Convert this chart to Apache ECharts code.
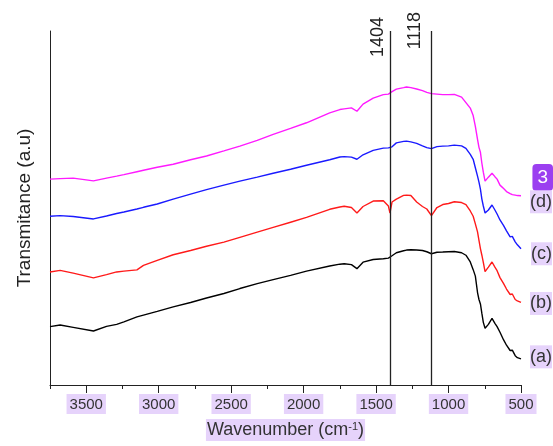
<!DOCTYPE html>
<html>
<head>
<meta charset="utf-8">
<script src="https://cdn.jsdelivr.net/npm/echarts@6/dist/echarts.min.js"></script>
<style>
  html, body { margin: 0; padding: 0; background: #fff; }
  #main { width: 553px; height: 446px; }
</style>
</head>
<body>
<div id="main"></div>
<script>
// wavenumber grid (cm-1), shared by the four spectra
var wavenumber = [3750, 3680, 3590, 3450, 3360, 3290, 3240, 3150, 3105, 3010, 2900, 2780, 2670, 2550, 2440, 2320, 2210, 2090, 1980, 1820, 1750, 1720, 1670, 1632, 1590, 1520, 1450, 1415, 1404, 1390, 1360, 1310, 1290, 1260, 1220, 1180, 1150, 1118, 1080, 1040, 1000, 960, 910, 880, 850, 830, 815, 800, 790, 780, 770, 760, 748, 740, 725, 700, 680, 665, 645, 620, 600, 575, 560, 540, 525, 500];

// transmittance, arbitrary units (offset stacked)
var specA = [58.7, 60.3, 58, 54.3, 59, 61, 63.5, 68.5, 70.3, 74, 78.5, 83, 87.5, 92, 97, 102, 106, 110.3, 114.5, 119.7, 121.5, 122, 121, 117, 123.5, 126.2, 127, 127.6, 128, 130, 133, 135, 135.7, 136, 135.7, 135.3, 134, 132, 133.5, 133.7, 134, 134.3, 133, 130.5, 123.7, 116, 109.5, 93, 86, 81.5, 72, 63, 57, 56, 61, 67, 62, 58.7, 53, 45.3, 40, 34.7, 35, 29.5, 27.5, 26.3];
var specB = [113.7, 115.3, 112.5, 107.7, 111, 113.7, 114.5, 115.8, 120.3, 125.3, 131, 135.3, 139.5, 143.7, 148.5, 153.7, 158.5, 163.7, 168.5, 176.7, 179, 179.7, 178.5, 173, 179.5, 185, 185.3, 180, 173, 184, 187, 190.7, 191, 190.5, 184, 179.5, 177, 170.3, 178.5, 181.5, 182.5, 184.3, 183.5, 181.5, 175, 169.7, 162, 154, 145.4, 137.2, 130.5, 123.4, 114, 113, 118.5, 123.7, 118.5, 115, 108, 102, 96.5, 91, 91.5, 86, 84.5, 83];
var specC = [169.7, 170.3, 169.5, 167, 170, 172.5, 174, 177, 178.7, 182, 187, 192, 196.5, 201, 205, 209, 213, 217, 221, 226.5, 229.3, 229.7, 229.2, 227, 231.5, 236, 238.2, 238.5, 237, 239.5, 243.5, 245, 245.3, 244.5, 243, 240.5, 238.7, 237.7, 239.7, 240.2, 240.5, 241.2, 240.5, 238, 232, 227, 218.5, 210, 204, 197, 187, 180, 173, 171, 176, 181, 176, 172, 166, 160.3, 155, 149, 149.5, 144, 141, 137];
var specD = [207, 207.5, 208, 205.3, 208, 210, 211.5, 214.5, 216, 219, 222, 226.5, 230.3, 235.5, 240.3, 246, 252, 258, 263.7, 273.7, 277, 277.7, 278.7, 275.3, 282.5, 288.5, 292, 292.5, 293, 295, 297.5, 299, 299.7, 299, 297.7, 296, 294.3, 293, 292.5, 292, 292, 292.3, 289.5, 284, 278.5, 271, 260, 247, 239, 234, 223, 214, 205, 205.5, 209, 213, 209.5, 207, 201, 197.5, 194.5, 192.5, 191.5, 191, 190.5, 190.3];

var seriesNames = ['(a)', '(b)', '(c)', '(d)'];
var seriesColors = ['#000000', '#ff1a1a', '#1a1aff', '#ff1aff'];
var markedBands = [1404, 1118];
var majorTicks = [500, 1000, 1500, 2000, 2500, 3000, 3500];
var minorTicks = [750, 1250, 1750, 2250, 2750, 3250, 3750];

var lavender = '#e6d3fb';
var font = 'Liberation Sans, Arial, sans-serif';

function pairs(ys) {
    return wavenumber.map(function (w, i) { return [w, ys[i]]; });
}

var specs = [specA, specB, specC, specD];
// x axis is inverted, so the end label would sit left of the line end; push it right
var labelOffsets = [[39, -2], [39, 1], [39, 5], [39, 6]];

var series = specs.map(function (ys, i) {
    var s = {
        name: seriesNames[i],
        type: 'line',
        data: pairs(ys),
        showSymbol: false,
        symbol: 'none',
        lineStyle: { color: seriesColors[i], width: 1.4 },
        itemStyle: { color: seriesColors[i] },
        endLabel: {
            show: true,
            formatter: '{a}',
            distance: 8,
            offset: labelOffsets[i],
            color: '#333',
            fontSize: 18,
            fontFamily: font,
            backgroundColor: lavender,
            padding: [3, 0, 2, 0]
        }
    };
    if (i === 0) {
        s.markLine = {
            silent: true,
            symbol: ['none', 'none'],
            lineStyle: { color: '#222', width: 1.3, type: 'solid' },
            label: {
                show: true,
                position: 'insideEndTop',
                formatter: function (p) { return p.value; },
                color: '#222',
                fontSize: 18,
                fontFamily: font
            },
            data: [
                { xAxis: markedBands[0], label: { distance: [-14, 3] } },
                { xAxis: markedBands[1], label: { distance: [-19, 7] } }
            ]
        };
    }
    return s;
});

var option = {
    animation: false,
    backgroundColor: '#fff',
    grid: { left: 50, right: 32, top: 31, bottom: 59 },
    xAxis: [{
        type: 'value',
        position: 'bottom',
        inverse: true,
        min: 500,
        max: 3750,
        interval: 500,
        name: 'Wavenumber (cm{sup|-1})',
        nameLocation: 'middle',
        nameGap: 34,
        nameTextStyle: {
            color: '#333',
            fontSize: 18,
            fontFamily: font,
            backgroundColor: lavender,
            padding: [2, 1, 2, 1],
            rich: {
                sup: { fontSize: 11, verticalAlign: 'top', color: '#333', fontFamily: font }
            }
        },
        axisLine: { show: true, lineStyle: { color: '#222', width: 1 } },
        axisTick: { show: true, inside: false, length: 8, customValues: majorTicks, lineStyle: { color: '#222' } },
        axisLabel: {
            customValues: majorTicks,
            formatter: function (v) { return String(v); },
            margin: 9,
            color: '#333',
            fontSize: 15,
            fontFamily: font,
            backgroundColor: lavender,
            padding: [3, 3, 2, 3]
        },
        splitLine: { show: false }
    }, {
        type: 'value',
        position: 'bottom',
        inverse: true,
        min: 500,
        max: 3750,
        axisLine: { show: false },
        axisTick: { show: true, length: 4, customValues: minorTicks, lineStyle: { color: '#222' } },
        axisLabel: { show: false },
        splitLine: { show: false }
    }],
    yAxis: {
        type: 'value',
        min: 0,
        max: 356,
        name: 'Transmitance (a.u)',
        nameLocation: 'middle',
        nameGap: 16,
        nameTextStyle: { color: '#222', fontSize: 19, fontFamily: font },
        axisLine: { show: true, lineStyle: { color: '#222', width: 1 } },
        axisTick: { show: false },
        axisLabel: { show: false },
        splitLine: { show: false }
    },
    graphic: [{
        type: 'text',
        right: 0,
        top: 164,
        style: {
            text: '3',
            fill: '#fff',
            fontSize: 19,
            fontFamily: font,
            backgroundColor: '#9b3ff0',
            borderRadius: 4,
            padding: [4, 5, 4, 5]
        }
    }],
    series: series
};

var chart = echarts.init(document.getElementById('main'));
chart.setOption(option);
window.addEventListener('resize', function () { chart.resize(); });
</script>
</body>
</html>
